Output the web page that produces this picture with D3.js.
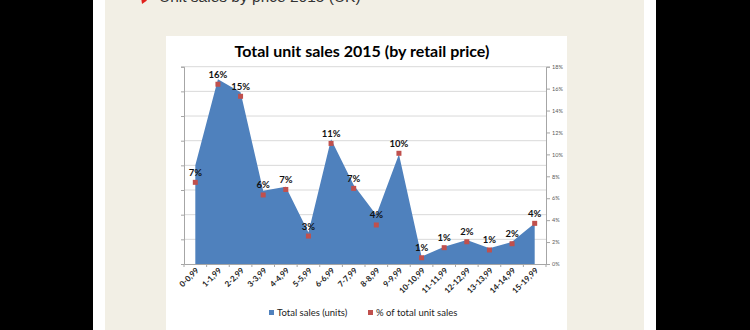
<!DOCTYPE html>
<html><head><meta charset="utf-8">
<script src="https://cdn.jsdelivr.net/npm/d3@7"></script>
<style>html,body{margin:0;padding:0;background:#000;}svg{display:block;}</style>
</head><body>
<svg id="c" width="750" height="330"></svg>
<script>
const categories = ["0-0,99","1-1,99","2-2,99","3-3,99","4-4,99","5-5,99","6-6,99","7-7,99","8-8,99","9-9,99","10-10,99","11-11,99","12-12,99","13-13,99","14-14,99","15-19,99"];
const unitSales = [400, 749, 696, 297, 313, 128, 506, 320, 199, 445, 30, 70, 97, 64, 90, 165];
const pctShare = [7.45, 16.4, 15.3, 6.3, 6.8, 2.55, 11.0, 6.9, 3.56, 10.1, 0.57, 1.49, 2.03, 1.28, 1.85, 3.71];
const rightTicks = [0, 2, 4, 6, 8, 10, 12, 14, 16, 18];
const leftTicks = [0, 100, 200, 300, 400, 500, 600, 700, 800];
const title = "Total unit sales 2015 (by retail price)";
const seriesNames = ["Total sales (units)", "% of total unit sales"];

const svg = d3.select("#c");
const font = "Lato, 'Open Sans', sans-serif";

// slide background
svg.append("rect").attr("x",0).attr("y",0).attr("width",750).attr("height",330).attr("fill","#000");
svg.append("rect").attr("x",93).attr("y",0).attr("width",563).attr("height",330).attr("fill","#fff");
svg.append("rect").attr("x",105).attr("y",0).attr("width",539).attr("height",330).attr("fill","#F2EFE5");
// slide heading (cut off at top)
svg.append("path").attr("d","M141,-3 L147,0.5 L142,4 Z").attr("fill","#E0201B");
svg.append("text").attr("x",159).attr("y",2).attr("font-family","'Liberation Sans', Arial, sans-serif")
  .attr("font-size",15.5).attr("fill","#333").text("Unit sales by price 2015 (UK)");
// chart box
svg.append("rect").attr("x",166).attr("y",36).attr("width",401).attr("height",300).attr("fill","#fff");

const pLeft = 184, pRight = 546, pTop = 66.7, pBottom = 264;
const x = d3.scaleBand().domain(categories).range([pLeft, pRight]);
const cx = d => x(d) + x.bandwidth()/2;
const yL = d3.scaleLinear().domain([0, 800]).range([pBottom, pTop]);
const yR = d3.scaleLinear().domain([0, 18]).range([pBottom, pTop]);

// gridlines
svg.append("g").selectAll("line").data(leftTicks.slice(1)).join("line")
  .attr("x1", pLeft).attr("x2", pRight).attr("y1", d => yL(d)).attr("y2", d => yL(d))
  .attr("stroke", "#d9d9d9").attr("stroke-width", 1);

// area
const area = d3.area().x((d,i) => cx(categories[i])).y0(pBottom).y1(d => yL(d));
svg.append("path").datum(unitSales).attr("d", area).attr("fill", "#4F81BD");

// axes
const gL = svg.append("g").attr("transform", `translate(${pLeft},0)`)
  .call(d3.axisLeft(yL).tickValues(leftTicks).tickSize(3).tickFormat(""));
const gR = svg.append("g").attr("transform", `translate(${pRight},0)`)
  .call(d3.axisRight(yR).tickValues(rightTicks).tickSize(4).tickFormat(d => d + "%"));
const gX = svg.append("g").attr("transform", `translate(0,${pBottom})`)
  .call(d3.axisBottom(x).tickSize(0).tickFormat(d => d));
[gL, gR, gX].forEach(g => {
  g.select(".domain").attr("stroke", "#a6a6a6");
  g.selectAll(".tick line").attr("stroke", "#a6a6a6");
});
gR.selectAll("text").attr("font-family", font).attr("font-size", 5.5).attr("fill", "#595959").attr("x", 6);
gX.selectAll("text").attr("font-family", font).attr("font-size", 8).attr("font-weight", "bold").attr("fill", "#222")
  .attr("text-anchor", "end").attr("dy", 0).attr("y", 0)
  .attr("transform", "translate(4,7) rotate(-45)");
// category boundary ticks
svg.append("g").selectAll("line").data(categories.concat(["__end"])).join("line")
  .attr("x1", (d,i) => pLeft + i * x.bandwidth()).attr("x2", (d,i) => pLeft + i * x.bandwidth())
  .attr("y1", pBottom).attr("y2", pBottom + 3).attr("stroke", "#a6a6a6");

// markers
svg.append("g").selectAll("rect").data(pctShare).join("rect")
  .attr("x", (d,i) => cx(categories[i]) - 2.5).attr("y", d => yR(d) - 2.5)
  .attr("width", 5).attr("height", 5).attr("fill", "#C0504D");
// labels
svg.append("g").selectAll("text").data(pctShare).join("text")
  .attr("x", (d,i) => cx(categories[i])).attr("y", d => yR(d) - 6.5)
  .attr("text-anchor", "middle").attr("font-family", font).attr("font-size", 9.5).attr("font-weight", "bold")
  .attr("fill", "#111").text(d => Math.round(d) + "%");

// title
svg.append("text").attr("x", 362).attr("y", 57).attr("text-anchor", "middle")
  .attr("font-family", font).attr("font-weight", "bold").attr("font-size", 16).attr("fill", "#000").text(title);

// legend
const lg = svg.append("g");
lg.append("rect").attr("x", 269).attr("y", 310).attr("width", 5).attr("height", 5).attr("fill", "#4F81BD");
lg.append("text").attr("x", 277).attr("y", 316).attr("font-family", font).attr("font-size", 9.5).attr("fill", "#222").text(seriesNames[0]);
lg.append("rect").attr("x", 368).attr("y", 310).attr("width", 5).attr("height", 5).attr("fill", "#C0504D");
lg.append("text").attr("x", 376).attr("y", 316).attr("font-family", font).attr("font-size", 9.5).attr("fill", "#222").text(seriesNames[1]);
</script>
</body></html>
